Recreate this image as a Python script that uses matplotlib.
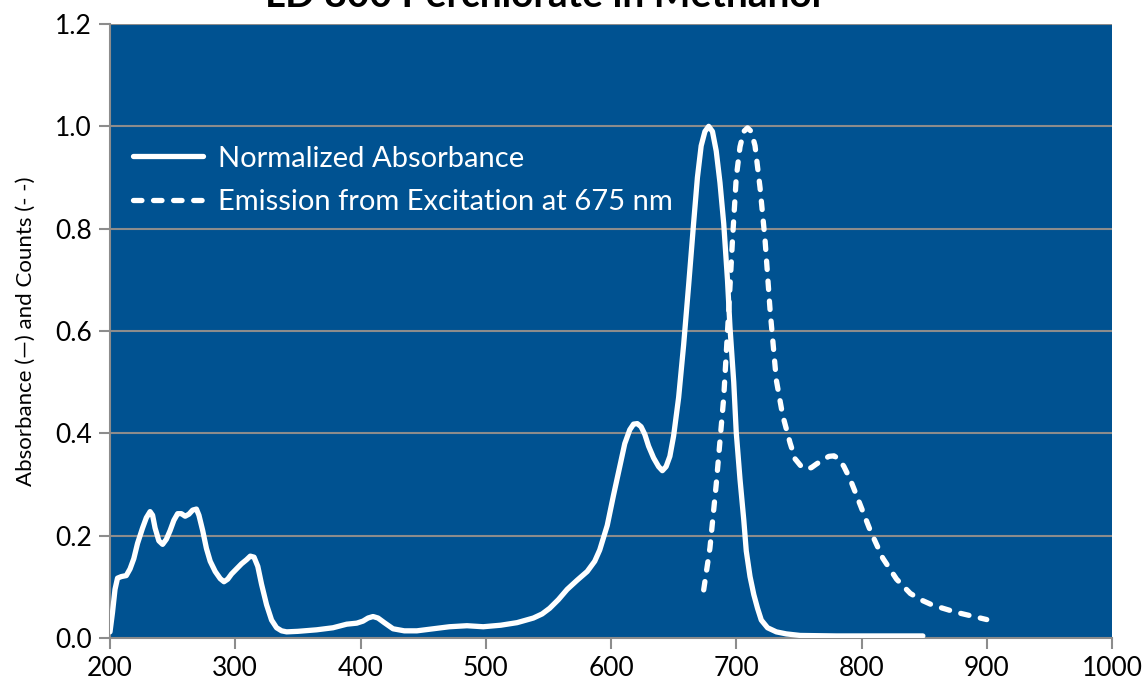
import matplotlib
matplotlib.use("Agg")
import matplotlib.pyplot as plt

# Absorbance (solid) -- wavelengths (nm) and normalized values, rows of 10
abs_nm = [200, 202, 204, 206, 209, 213, 216, 219, 222, 226,
          229, 232, 234, 236, 239, 242, 245, 248, 251, 254,
          257, 260, 263, 266, 269, 271, 274, 277, 280, 284,
          288, 291, 294, 297, 301, 305, 309, 312, 315, 318,
          321, 325, 329, 333, 337, 341, 350, 365, 378, 389,
          397, 402, 406, 410, 414, 419, 426, 435, 445, 458,
          471, 485, 498, 512, 525, 538, 545, 551, 558, 565,
          573, 581, 587, 591, 597, 602, 607, 611, 615, 618,
          621, 624, 627, 630, 634, 638, 641, 644, 647, 650,
          654, 658, 662, 666, 669, 672, 675, 678, 681, 684,
          687, 690, 693, 695, 698, 700, 703, 706, 708, 711,
          714, 717, 720, 725, 732, 740, 751, 780, 820, 849]
abs_val = [0.012, 0.05, 0.095, 0.117, 0.12, 0.122, 0.135, 0.155, 0.185, 0.215,
           0.235, 0.247, 0.24, 0.215, 0.19, 0.183, 0.193, 0.21, 0.23, 0.243,
           0.243, 0.238, 0.242, 0.25, 0.252, 0.24, 0.21, 0.175, 0.15, 0.13,
           0.116, 0.11, 0.115, 0.125, 0.135, 0.145, 0.153, 0.16, 0.158, 0.14,
           0.105, 0.065, 0.035, 0.02, 0.014, 0.012, 0.013, 0.016, 0.02, 0.027,
           0.029, 0.033, 0.039, 0.042, 0.039, 0.03, 0.018, 0.014, 0.014, 0.018,
           0.022, 0.024, 0.022, 0.025, 0.03, 0.039, 0.047, 0.058, 0.075, 0.095,
           0.113, 0.13, 0.15, 0.172, 0.22, 0.279, 0.335, 0.38, 0.407, 0.418,
           0.419, 0.413, 0.398, 0.375, 0.352, 0.335, 0.327, 0.335, 0.355, 0.395,
           0.47, 0.573, 0.69, 0.812, 0.9, 0.962, 0.99, 1.0, 0.99, 0.952,
           0.89, 0.81, 0.7, 0.607, 0.5, 0.402, 0.31, 0.231, 0.17, 0.12,
           0.085, 0.058, 0.035, 0.02, 0.012, 0.008, 0.005, 0.004, 0.004, 0.004]

# Emission (dashed)
em_nm = [674, 679, 684, 690, 694, 697, 700, 703, 706, 709,
         712, 715, 719, 723, 727, 732, 737, 743, 747, 752,
         756, 760, 764, 769, 774, 778, 782, 786, 791, 796,
         807, 817, 828, 839, 848, 857, 876, 900]
em_val = [0.094, 0.176, 0.30, 0.47, 0.641, 0.778, 0.9, 0.96, 0.99, 0.997,
          0.99, 0.962, 0.88, 0.778, 0.641, 0.504, 0.436, 0.381, 0.35, 0.335,
          0.33, 0.333, 0.34, 0.348, 0.355, 0.356, 0.35, 0.335, 0.31, 0.279,
          0.21, 0.156, 0.115, 0.087, 0.074, 0.064, 0.05, 0.036]

x_ticks = [200, 300, 400, 500, 600, 700, 800, 900, 1000]
y_ticks = [0.0, 0.2, 0.4, 0.6, 0.8, 1.0, 1.2]

plt.rcParams['font.family'] = ['Lato', 'DejaVu Sans']

W, H = 1147, 694
fig = plt.figure(figsize=(W / 100, H / 100), dpi=100)
ax = fig.add_axes([110 / W, 1 - 638 / H, (1112 - 110) / W, (638 - 24) / H])
ax.set_facecolor('#005291')

grid_c = '#8c8c8c'
for yv in y_ticks[1:]:
    ax.axhline(yv, color=grid_c, lw=1.5, zorder=1)

ax.plot(abs_nm, abs_val, color='white', lw=3.8, solid_capstyle='round', solid_joinstyle='round',
        label='Normalized Absorbance', zorder=3)
ax.plot(em_nm, em_val, color='white', lw=3.8, linestyle=(0, (1.6, 2.2)), dash_capstyle='round',
        label='Emission from Excitation at 675 nm', zorder=3)

ax.set_xlim(200, 1000)
ax.set_ylim(0, 1.2)
ax.set_xticks(x_ticks)
ax.set_yticks(y_ticks)
ax.set_yticklabels([f"{v:.1f}" for v in y_ticks])
ax.tick_params(axis='both', which='major', length=8, width=1.5, color=grid_c, labelsize=19,
               direction='out', pad=5)
for s in ['top', 'right']:
    ax.spines[s].set_visible(False)
for s in ['left', 'bottom']:
    ax.spines[s].set_color(grid_c)
    ax.spines[s].set_linewidth(1.5)

ax.set_ylabel('Absorbance (—) and Counts (- -)', fontsize=16, labelpad=14)

leg = ax.legend(loc='upper left', bbox_to_anchor=(0.023, 0.802), frameon=False, fontsize=21,
                handlelength=2.4, handletextpad=0.5, labelspacing=0.61, borderpad=0, borderaxespad=0)
for t in leg.get_texts():
    t.set_color('white')

fig.text(543 / W, 1 - 7 / H, 'LD 800 Perchlorate in Methanol', ha='center', va='baseline',
         fontsize=28, fontweight='bold')

fig.savefig('out.png', dpi=100)
